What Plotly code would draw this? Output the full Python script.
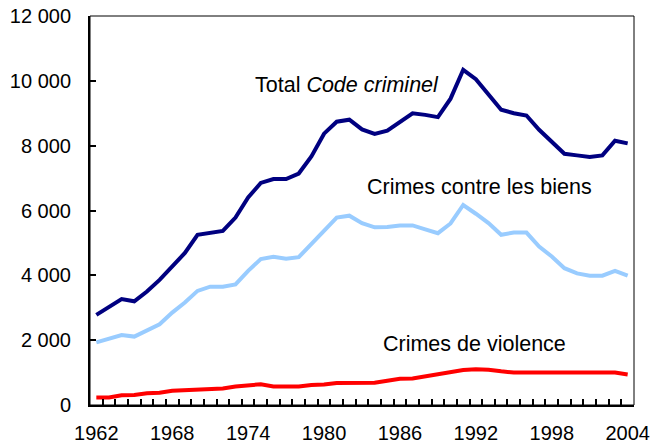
import plotly.graph_objects as go

years = list(range(1962, 2005))

total_code = [2780, 3010, 3270, 3200, 3500, 3860, 4270, 4690, 5250, 5320,
              5370, 5780, 6400, 6850, 6970, 6970, 7140, 7670, 8370, 8740,
              8800, 8500, 8360, 8460, 8720, 9000, 8950, 8880, 9450, 10340,
              10050, 9560, 9110, 9000, 8930, 8490, 8130, 7750, 7700, 7650,
              7700, 8150, 8070]

biens = [1930, 2050, 2160, 2110, 2290, 2490, 2850, 3160, 3520, 3650,
         3650, 3720, 4140, 4500, 4570, 4510, 4560, 4970, 5400, 5780,
         5840, 5610, 5480, 5490, 5540, 5540, 5420, 5300, 5600, 6170,
         5900, 5610, 5250, 5320, 5320, 4890, 4580, 4220, 4060, 3990,
         3990, 4140, 3990]

violence = [230, 230, 300, 310, 360, 380, 440, 460, 500, 510,
            510, 570, 590, 640, 570, 570, 570, 620, 630, 680,
            690, 690, 690, 750, 810, 820, 890, 950, 1020, 1080,
            1100, 1090, 1040, 1000, 1000, 1000, 1000, 1000, 1000, 1000,
            1000, 1000, 940]

x_labels = [1962, 1968, 1974, 1980, 1986, 1992, 1998, 2004]
y_ticks = [0, 2000, 4000, 6000, 8000, 10000, 12000]
y_labels = ['0', '2 000', '4 000', '6 000', '8 000', '10 000', '12 000']

font = 'Arial, Liberation Sans, sans-serif'
x_range = [1961.5, 2004.5]

fig = go.Figure()
fig.add_trace(go.Scatter(x=years, y=total_code, mode='lines',
                         line=dict(color='#000080', width=4)))
fig.add_trace(go.Scatter(x=years, y=biens, mode='lines',
                         line=dict(color='#99CCFF', width=4)))
fig.add_trace(go.Scatter(x=years, y=violence, mode='lines',
                         line=dict(color='#FF0000', width=4)))

fig.add_annotation(x=1981.8, y=9870, text='Total <i>Code criminel</i>', showarrow=False)
fig.add_annotation(x=1992.3, y=6720, text='Crimes contre les biens', showarrow=False)
fig.add_annotation(x=1991.9, y=1880, text='Crimes de violence', showarrow=False)

# frame: thin on top and right, heavier axes on left and bottom
fig.add_shape(type='rect', xref='paper', yref='paper', x0=0, x1=1, y0=0, y1=1,
              line=dict(color='black', width=1), layer='above')

fig.update_layout(
    width=662, height=446,
    margin=dict(l=90, r=28, t=16, b=41),
    paper_bgcolor='white', plot_bgcolor='white',
    showlegend=False,
    font=dict(family=font, size=21.5, color='black'),
    xaxis=dict(range=x_range, tickvals=x_labels, ticks='', automargin=False,
               showline=True, linecolor='black', linewidth=2,
               showgrid=False, zeroline=False,
               tickfont=dict(size=20), ticklabelstandoff=9),
    # category boundary ticks, as in the original
    xaxis2=dict(range=x_range, overlaying='x', anchor='y', side='bottom',
                tickvals=[y - 0.5 for y in years] + [2004.5],
                ticks='inside', ticklen=6, tickwidth=1.5, tickcolor='black',
                showticklabels=False, showgrid=False, zeroline=False,
                showline=False, automargin=False),
    yaxis=dict(range=[0, 12000], tickvals=y_ticks, ticktext=y_labels,
               ticks='inside', ticklen=6, tickwidth=1.5, tickcolor='black',
               showline=True, linecolor='black', linewidth=2, automargin=False,
               showgrid=False, zeroline=False,
               tickfont=dict(size=20), ticklabelstandoff=13),
)
fig.add_trace(go.Scatter(x=[years[0]], y=[None], xaxis='x2', showlegend=False,
                         hoverinfo='skip'))

fig.write_html('out.html', config={'displayModeBar': False},
               post_script="document.body.style.margin='0px';")
